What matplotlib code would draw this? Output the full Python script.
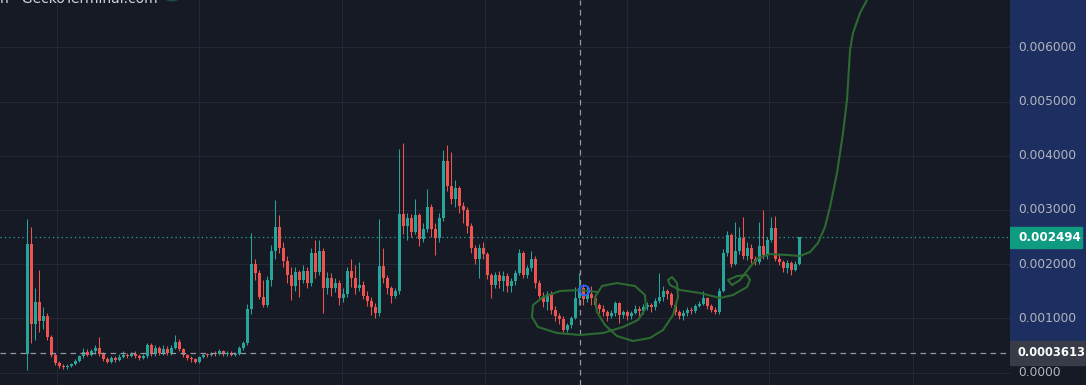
import numpy as np
import matplotlib
matplotlib.use("Agg")
import matplotlib.pyplot as plt
from matplotlib.patches import Circle

# prices are written in units of 0.0001
SCALE = 1e-4

opens = [3.5, 23.8, 9.0, 13.0, 9.5, 10.5, 6.5, 3.2, 1.8, 1.2,
         1.0, 1.2, 1.5, 2.2, 3.0, 3.8, 3.3, 3.9, 4.6, 3.5,
         2.5, 2.0, 2.7, 2.3, 2.9, 3.3, 3.0, 3.4, 3.1, 2.6,
         3.0, 5.0, 3.4, 4.6, 3.6, 4.4, 3.6, 4.6, 5.6, 4.4,
         3.2, 2.7, 2.4, 2.0, 2.8, 3.3, 3.2, 3.5, 3.4, 3.9,
         3.4, 3.6, 3.2, 3.5, 4.5, 5.4, 11.8, 20.1, 18.3, 14.0,
         12.5, 17.0, 22.5, 26.8, 23.0, 20.5, 18.0, 16.0, 18.5, 17.0,
         18.8, 16.5, 22.0, 18.5, 22.5, 15.5, 17.5, 15.5, 16.5, 13.8,
         14.5, 18.8, 17.5, 15.5, 16.2, 14.2, 13.2, 12.0, 11.0, 19.7,
         17.5, 15.5, 14.2, 15.0, 29.3, 27.1, 28.5, 26.0, 29.0, 24.7,
         26.5, 30.5, 26.5, 24.9, 28.5, 39.1, 34.5, 32.0, 34.0, 30.8,
         30.0, 27.0, 23.0, 21.0, 23.0, 21.8, 17.9, 16.2, 18.0, 16.8,
         17.8, 16.0, 16.8, 18.3, 22.1, 18.0, 19.2, 21.0, 16.5, 14.2,
         13.0, 14.5, 11.5, 10.5, 9.8, 7.8, 8.7, 10.0, 13.7, 15.5,
         13.5, 14.5, 13.8, 12.4, 11.8, 11.2, 10.5, 11.0, 12.8, 10.6,
         11.2, 10.4, 11.0, 11.8, 11.3, 12.0, 12.4, 12.0, 13.2, 14.0,
         15.0, 14.4, 12.4, 11.2, 10.4, 11.0, 11.6, 11.3, 12.2, 12.7,
         13.7, 12.2, 11.6, 11.2, 15.1, 22.1, 25.3, 20.0, 22.5, 24.9,
         21.5, 23.0, 21.0, 20.3, 23.4, 21.6, 24.5, 26.6, 21.0, 20.3,
         19.2, 20.2, 19.0, 20.0]

closes = [23.8, 9.0, 13.0, 9.5, 10.5, 6.5, 3.2, 1.8, 1.2, 1.0,
          1.2, 1.5, 2.2, 3.0, 3.8, 3.3, 3.9, 4.6, 3.5, 2.5,
          2.0, 2.7, 2.3, 2.9, 3.3, 3.0, 3.4, 3.1, 2.6, 3.0,
          5.0, 3.4, 4.6, 3.6, 4.4, 3.6, 4.6, 5.6, 4.4, 3.2,
          2.7, 2.4, 2.0, 2.8, 3.3, 3.2, 3.5, 3.4, 3.9, 3.4,
          3.6, 3.2, 3.5, 4.5, 5.4, 11.8, 20.1, 18.3, 14.0, 12.5,
          17.0, 22.5, 26.8, 23.0, 20.5, 18.0, 16.0, 18.5, 17.0, 18.8,
          16.5, 22.0, 18.5, 22.5, 15.5, 17.5, 15.5, 16.5, 13.8, 14.5,
          18.8, 17.5, 15.5, 16.2, 14.2, 13.2, 12.0, 11.0, 19.7, 17.5,
          15.5, 14.2, 15.0, 29.3, 27.1, 28.5, 26.0, 29.0, 24.7, 26.5,
          30.5, 26.5, 24.9, 28.5, 39.1, 34.5, 32.0, 34.0, 30.8, 30.0,
          27.0, 23.0, 21.0, 23.0, 21.8, 17.9, 16.2, 18.0, 16.8, 17.8,
          16.0, 16.8, 18.3, 22.1, 18.0, 19.2, 21.0, 16.5, 14.2, 13.0,
          14.5, 11.5, 10.5, 9.8, 7.8, 8.7, 10.0, 13.7, 15.5, 13.5,
          14.5, 13.8, 12.4, 11.8, 11.2, 10.5, 11.0, 12.8, 10.6, 11.2,
          10.4, 11.0, 11.8, 11.3, 12.0, 12.4, 12.0, 13.2, 14.0, 15.0,
          14.4, 12.4, 11.2, 10.4, 11.0, 11.6, 11.3, 12.2, 12.7, 13.7,
          12.2, 11.6, 11.2, 15.1, 22.1, 25.3, 20.0, 22.5, 24.9, 21.5,
          23.0, 21.0, 20.3, 23.4, 21.6, 24.5, 26.6, 21.0, 20.3, 19.2,
          20.2, 19.0, 20.0, 24.94]

highs = [28.4, 26.8, 15.5, 19.0, 12.0, 11.0, 7.0, 3.6, 2.2, 1.6,
         1.5, 1.8, 2.5, 3.3, 4.6, 4.3, 4.4, 5.0, 6.5, 3.8,
         2.9, 3.0, 3.1, 3.5, 3.9, 3.6, 3.8, 3.9, 3.4, 3.5,
         5.5, 5.4, 5.0, 4.9, 5.1, 4.8, 5.0, 6.9, 6.1, 4.6,
         3.5, 3.0, 2.7, 3.1, 3.6, 3.6, 3.8, 3.9, 4.3, 4.1,
         3.9, 3.9, 3.8, 4.8, 5.9, 12.7, 25.8, 21.0, 19.0, 17.0,
         17.8, 23.5, 31.9, 29.0, 24.0, 21.5, 19.5, 19.5, 19.0, 19.8,
         19.5, 22.9, 24.4, 24.4, 23.0, 18.5, 18.3, 17.5, 17.0, 15.5,
         19.5, 21.0, 19.8, 20.4, 16.8, 15.0, 14.0, 12.8, 28.4, 22.9,
         18.0, 16.0, 15.5, 41.3, 42.3, 29.5, 29.2, 32.1, 29.5, 27.5,
         33.8, 31.0, 27.5, 29.5, 41.0, 41.9, 40.6, 35.5, 34.5, 31.4,
         30.5, 27.5, 23.5, 23.8, 24.0, 22.2, 18.3, 18.6, 18.8, 18.8,
         18.3, 17.5, 19.0, 22.8, 22.5, 19.8, 22.5, 21.5, 17.0, 14.8,
         15.0, 15.0, 12.2, 11.0, 10.5, 9.2, 10.5, 15.7, 18.3, 16.3,
         15.8, 16.0, 14.2, 12.8, 12.4, 11.6, 11.5, 13.2, 13.0, 11.6,
         11.5, 11.4, 12.4, 12.2, 12.6, 13.0, 12.8, 13.7, 18.3, 16.0,
         15.4, 14.8, 12.8, 11.6, 11.5, 12.0, 12.0, 12.6, 13.2, 15.0,
         14.0, 12.6, 12.0, 15.5, 22.8, 26.2, 25.8, 27.7, 26.8, 28.6,
         24.0, 23.8, 21.5, 27.7, 29.9, 25.0, 28.6, 28.8, 21.8, 20.8,
         20.8, 20.6, 20.6, 24.94]

lows = [0.4, 5.4, 6.0, 7.5, 8.0, 6.0, 2.8, 1.4, 0.9, 0.6,
        0.7, 1.0, 1.3, 2.0, 2.7, 3.0, 3.1, 3.4, 3.1, 2.1,
        1.7, 1.8, 2.0, 2.1, 2.7, 2.6, 2.8, 2.6, 2.3, 2.4,
        2.6, 3.0, 3.0, 3.2, 3.3, 3.2, 3.3, 4.3, 4.0, 2.9,
        2.3, 2.0, 1.7, 1.8, 2.6, 2.9, 3.0, 3.1, 3.2, 3.1,
        3.1, 3.0, 3.0, 3.3, 4.2, 5.0, 10.8, 17.0, 13.5, 12.0,
        12.0, 16.0, 21.0, 22.0, 19.5, 16.5, 13.3, 15.0, 14.0, 16.5,
        15.5, 16.0, 17.5, 18.0, 10.9, 14.5, 14.2, 14.8, 12.5, 13.0,
        14.0, 15.8, 14.5, 15.0, 13.5, 12.2, 10.6, 10.0, 10.5, 16.5,
        14.5, 12.9, 13.8, 14.5, 25.5, 24.4, 25.0, 25.5, 23.4, 24.0,
        26.0, 25.0, 21.6, 24.0, 28.0, 33.5, 31.0, 30.5, 29.5, 27.5,
        25.8, 22.0, 20.0, 17.5, 21.0, 17.2, 13.8, 15.5, 15.5, 15.0,
        14.8, 14.8, 16.2, 18.0, 17.5, 17.5, 18.8, 15.5, 13.8, 12.0,
        11.5, 10.8, 9.5, 9.0, 7.4, 7.4, 8.2, 9.8, 12.5, 12.4,
        13.0, 12.5, 12.0, 11.0, 10.5, 9.5, 10.0, 10.5, 9.2, 10.0,
        9.6, 9.8, 10.8, 10.5, 10.8, 11.5, 11.2, 11.6, 12.8, 13.2,
        13.5, 12.0, 10.6, 9.8, 9.6, 10.5, 10.8, 11.0, 12.0, 12.4,
        11.8, 11.2, 10.8, 10.8, 14.8, 21.5, 19.5, 19.8, 21.8, 21.0,
        20.8, 20.2, 19.8, 20.0, 21.0, 21.0, 24.0, 20.5, 19.8, 18.5,
        18.3, 17.9, 18.8, 19.8]

last_price = 0.002494
cross_price = 0.0003613
cross_bar = 138.25
price_ticks = [0.0, 0.001, 0.002, 0.003, 0.004, 0.005, 0.006]
time_grid = [7.5, 43.0, 78.75, 114.5, 150.0, 185.5, 221.5]

# hand drawn scribble (bar index, price in 0.0001)
scribble_x = [142.5, 138.25, 133.25, 129.0, 126.5, 126.25, 127.75, 132.5, 138.25, 144.0,
              149.0, 152.75, 154.75, 154.5, 152.0, 147.5, 143.75, 142.0, 142.5, 144.5,
              147.5, 151.5, 155.75, 159.0, 161.5, 162.75, 162.5, 161.25, 160.25, 160.75,
              163.25, 168.25, 173.25, 176.5, 180.0, 180.75, 180.0, 177.5, 175.25, 176.25,
              178.25, 180.75, 182.75, 185.75, 190.0, 193.25, 195.75, 197.75, 199.5, 200.75,
              202.5, 204.0, 205.0, 205.5, 205.75, 206.5, 208.25, 210.25]
scribble_y = [14.85, 15.22, 15.04, 13.93, 12.45, 10.24, 8.39, 7.29, 6.92, 7.29,
              8.39, 9.69, 11.9, 14.3, 15.96, 16.51, 15.96, 13.93, 11.16, 8.76,
              6.73, 5.81, 6.37, 7.84, 10.61, 13.93, 16.51, 17.62, 17.07, 16.14,
              15.22, 14.67, 13.75, 14.3, 15.77, 17.07, 17.99, 17.8, 17.07, 16.14,
              17.07, 19.47, 21.13, 21.86, 21.68, 21.49, 22.23, 23.89, 26.85, 30.54,
              36.81, 44.19, 50.28, 56.37, 59.5, 62.64, 66.33, 69.1]
marker_bar, marker_price = 139.25, 15.22

BG = '#161a25'
GRID = '#242834'
UP = '#26a69a'
DOWN = '#ef5350'

o = np.array(opens) * SCALE
c = np.array(closes) * SCALE
h = np.array(highs) * SCALE
l = np.array(lows) * SCALE
idx = np.arange(len(c))

W, H = 1086, 385
fig = plt.figure(figsize=(W / 100, H / 100), dpi=100)
fig.patch.set_facecolor(BG)
ax = fig.add_axes([0, 0, 1010 / W, 1])
pax = fig.add_axes([1010 / W, 0, 76 / W, 1])
ax.set_zorder(2)
pax.set_zorder(1)

ymin, ymax = -0.0002306, 0.006873
px = (ymax - ymin) / H
ax.set_xlim(-6.75, 245.75)
ax.set_ylim(ymin, ymax)
ax.set_facecolor(BG)

# grid
for t in price_ticks:
    ax.axhline(t, color=GRID, lw=0.8, zorder=0)
for t in time_grid:
    ax.axvline(t, color=GRID, lw=0.8, zorder=0)

# candles
up = c >= o
colors = np.where(up, UP, DOWN)
ax.vlines(idx, l, h, colors=colors, lw=0.75, zorder=3)
body_lo = np.minimum(o, c)
body_h = np.maximum(np.abs(c - o), 0.15 * SCALE)
ax.bar(idx, body_h, bottom=body_lo, width=0.75, color=colors, linewidth=0, zorder=4)

# last price and crosshair lines
ax.axhline(last_price, color=UP, lw=0.9, linestyle=(0, (1, 2.5)), zorder=2)
ax.axhline(cross_price, color='#9598a1', lw=0.9, linestyle=(0, (4.5, 3.5)), zorder=5)
ax.axvline(cross_bar, color='#9598a1', lw=0.9, linestyle=(0, (4.5, 3.5)), zorder=5)

# drawing
ax.plot(scribble_x, np.array(scribble_y) * SCALE, color='#2c6a31', lw=1.5,
        solid_joinstyle='round', solid_capstyle='round', zorder=6, clip_on=True)
ax.plot([marker_bar], [marker_price * SCALE], 'o', ms=7, mfc='none', mec='#2962ff', mew=1.3, zorder=7)

ax.set_xticks([])
ax.set_yticks([])
for s in ax.spines.values():
    s.set_visible(False)

# header fragment at the very top (cut off in the original screenshot too)
ax.text(0.0, 1 - 3 / H, "n · GeckoTerminal.com", transform=ax.transAxes, color='#d1d4dc',
        fontsize=10, va='baseline', ha='left', zorder=8)
ax.add_patch(Circle((172 / 1010, 1 + 2 / H), 7 / 1010, transform=ax.transAxes,
                    color='#1e4d48', clip_on=False, zorder=8))

# price scale panel
pax.set_xlim(0, 1)
pax.set_ylim(ymin, ymax)
pax.axis('off')
pax.add_patch(plt.Rectangle((0, ymin), 1, ymax - ymin, color=BG, zorder=0))
pax.add_patch(plt.Rectangle((0, (372.5 - 340) / 54.2 * 1e-3), 1, ymax, color='#1d2e60', zorder=1))
for t in price_ticks:
    lab = "0.0000" if t == 0 else f"{t:.6f}"
    pax.text(8 / 76, t, lab, color='#b2b5be', fontsize=8.8, va='center', ha='left', zorder=3)

pax.add_patch(plt.Rectangle((0, last_price - 10.5 * px), 72 / 76, 21 * px, color='#0f9b80', zorder=4))
pax.text(8 / 76, last_price, f"{last_price:.6f}", color='white', fontsize=8.6, fontweight='bold',
         va='center', ha='left', zorder=5)
pax.add_patch(plt.Rectangle((0, cross_price - 12 * px), 1, 24 * px, color='#383c48', zorder=4))
pax.text(8 / 76, cross_price, f"{cross_price:.7f}", color='white', fontsize=8.3, fontweight='bold',
         va='center', ha='left', zorder=5)

fig.savefig("out.png", dpi=100, facecolor=BG)
